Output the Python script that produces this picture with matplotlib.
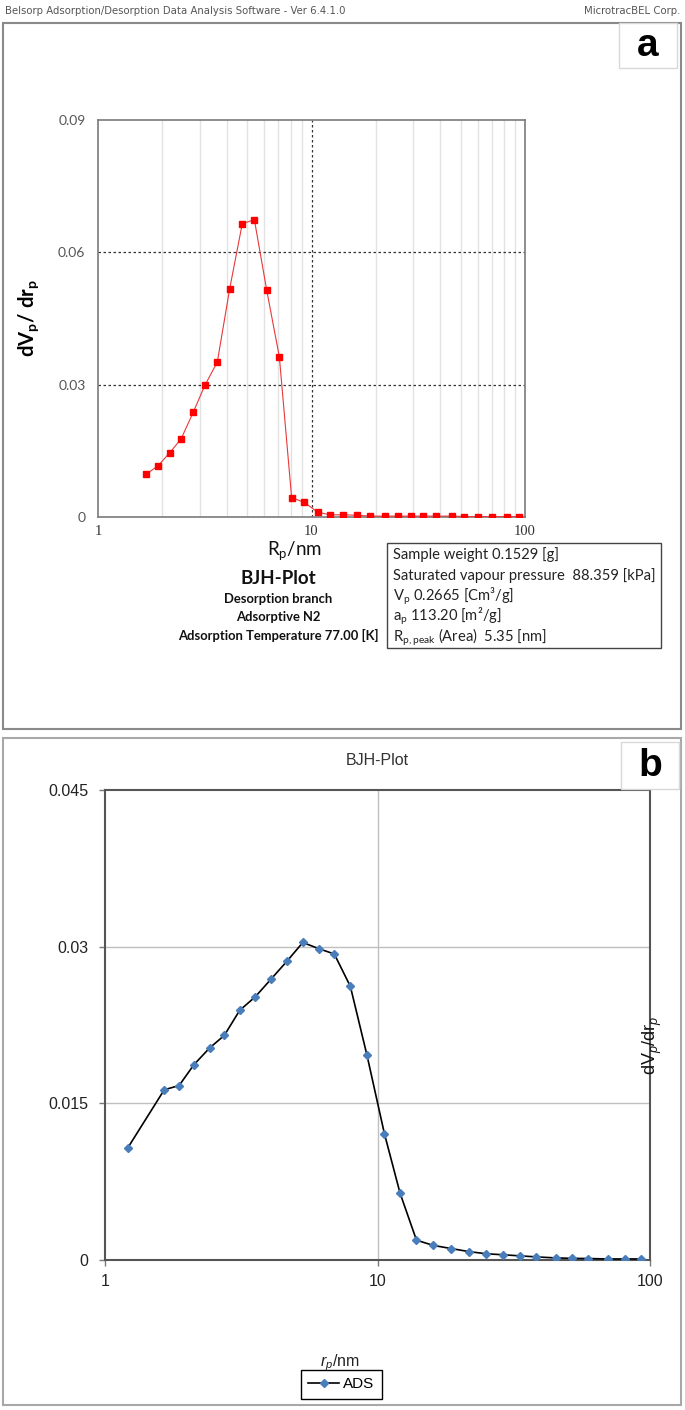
import matplotlib
matplotlib.use('Agg')
import matplotlib.pyplot as plt
from matplotlib.patches import Rectangle
from matplotlib.ticker import FixedLocator, NullFormatter

plt.rcParams['mathtext.fontset'] = 'custom'
plt.rcParams['mathtext.rm'] = 'Lato'
plt.rcParams['mathtext.bf'] = 'Lato:bold'
plt.rcParams['mathtext.sf'] = 'Liberation Sans'
plt.rcParams['mathtext.it'] = 'Liberation Sans:italic'

# Datos panel a (desorcion, BELSORP)
rp_a = [1.68, 1.91, 2.17, 2.45, 2.79, 3.17, 3.62, 4.14, 4.74, 5.40, 6.17, 7.07,
        8.07, 9.25, 10.7, 12.2, 14.1, 16.3, 18.8, 22.0, 25.3, 29.3, 33.4, 38.4,
        45.5, 52.0, 60.0, 70.3, 82.4, 93.5]
dv_a = [0.0097, 0.0116, 0.0146, 0.0177, 0.0237, 0.0299, 0.0351, 0.0518, 0.0665,
        0.0674, 0.0514, 0.0363, 0.0044, 0.0033, 0.0011, 0.0005, 0.0005, 0.0004,
        0.0002, 0.0002, 0.0002, 0.0002, 0.0002, 0.0002, 0.0002, 0.0001, 0.0001,
        0.0001, 0.0001, 0.0001]

# Datos panel b (ADS)
rp_b = [1.21, 1.65, 1.87, 2.12, 2.42, 2.74, 3.12, 3.56, 4.07, 4.65, 5.32, 6.10,
        6.94, 7.95, 9.15, 10.6, 12.1, 13.9, 16.0, 18.6, 21.7, 25.0, 28.9, 33.2,
        38.1, 45.0, 51.6, 59.4, 70.0, 81.2, 92.7]
dv_b = [0.0107, 0.0163, 0.0167, 0.0187, 0.0203, 0.0215, 0.0239, 0.0252, 0.0269,
        0.0286, 0.0304, 0.0298, 0.0293, 0.0262, 0.0196, 0.0121, 0.0064, 0.0019,
        0.0014, 0.0011, 0.0008, 0.0006, 0.0005, 0.0004, 0.0003, 0.0002, 0.00016,
        0.00014, 0.0001, 0.0001, 0.0001]

info_lines = ["Sample weight 0.1529 [g]",
              "Saturated vapour pressure  88.359 [kPa]",
              r"V$_\mathrm{p}$ 0.2665 [Cm³/g]",
              r"a$_\mathrm{p}$ 113.20 [m²/g]",
              r"R$_\mathrm{p,peak}$ (Area)  5.35 [nm]"]
sub_lines = ["Desorption branch", "Adsorptive N2", "Adsorption Temperature 77.00 [K]"]

W, H = 685, 1410
fig = plt.figure(figsize=(W / 100, H / 100), dpi=100)


def fx(px):
    return px / W


def fy(py):
    return 1 - py / H


def axes_px(l, t, r, b):
    return fig.add_axes([fx(l), fy(b), (r - l) / W, (b - t) / H])


def box_px(l, t, r, b, ec, lw, fc='none'):
    fig.patches.append(Rectangle((fx(l), fy(b)), (r - l) / W, (b - t) / H,
                                 transform=fig.transFigure, ec=ec, fc=fc, lw=lw))


# Cabecera
fig.text(fx(5), fy(11), "Belsorp Adsorption/Desorption Data Analysis Software - Ver 6.4.1.0",
         fontsize=7.3, color='#555555', va='center', family='DejaVu Sans')
fig.text(fx(680), fy(11), "MicrotracBEL Corp.", fontsize=7.3, color='#555555',
         va='center', ha='right', family='DejaVu Sans')

# Marcos
box_px(3, 23, 681, 729, '#8a8a8a', 1.5)
box_px(3, 738, 681, 1405, '#a8a8a8', 1.5)
box_px(619, 23, 677, 68, '#d8d8d8', 1.0, 'white')
box_px(621, 742, 679, 789, '#d8d8d8', 1.0, 'white')
fig.text(fx(648), fy(46), "a", fontsize=28, fontweight='bold', ha='center', va='center',
         family='Liberation Sans')
fig.text(fx(650), fy(766), "b", fontsize=28, fontweight='bold', ha='center', va='center',
         family='Liberation Sans')

# ---------------- Panel a ----------------
ax1 = axes_px(98, 120, 525, 517)
ax1.set_xscale('log')
ax1.set_xlim(1, 100)
ax1.set_ylim(0, 0.09)
minors = [k * d for d in (1, 10) for k in range(2, 10)]
for m in minors:
    ax1.axvline(m, color='#e2e2e2', lw=1, zorder=0)
ax1.axvline(10, color='#333333', lw=0.9, ls=(0, (2, 2)), zorder=1)
for yv in (0.03, 0.06):
    ax1.axhline(yv, color='#333333', lw=0.9, ls=(0, (2, 2)), zorder=1)
ax1.plot(rp_a, dv_a, color='#e8393a', lw=0.8, marker='s', ms=4.6,
         mfc='#ff0000', mec='#ff0000', zorder=3)
ax1.xaxis.set_major_locator(FixedLocator([1, 10, 100]))
ax1.xaxis.set_minor_formatter(NullFormatter())
ax1.set_xticklabels(['1', '10', '100'], family='Liberation Serif', fontsize=10.5, color='#333333')
ax1.set_yticks([0, 0.03, 0.06, 0.09])
ax1.set_yticklabels(['0', '0.03', '0.06', '0.09'], family='Lato', fontsize=10, color='#555555')
ax1.tick_params(axis='both', which='both', length=0)
ax1.tick_params(axis='x', pad=6)
ax1.tick_params(axis='y', pad=9)
for s in ax1.spines.values():
    s.set_color('#7a7a7a')
    s.set_linewidth(1.2)
ax1.set_ylabel(r"$\mathbf{dV_p/\ dr_p}$", fontsize=14.5, labelpad=12)

fig.text(fx(294), fy(551), r"R$_\mathrm{p}$/nm", fontsize=13.5, family='Lato',
         ha='center', va='center', color='#111111')
fig.text(fx(278), fy(579), "BJH-Plot", fontsize=13.5, fontweight='bold', family='Lato',
         ha='center', va='center', color='#111111')
for i, s in enumerate(sub_lines):
    fig.text(fx(278), fy(599 + 18 * i), s, fontsize=9.4, fontweight='bold', family='Lato',
             ha='center', va='center', color='#111111')

box_px(387, 543, 661, 648, '#444444', 1.0)
for i, s in enumerate(info_lines):
    fig.text(fx(393), fy(555 + 20.5 * i), s, fontsize=10.6, family='Lato',
             ha='left', va='center', color='#222222')

# ---------------- Panel b ----------------
ax2 = axes_px(105, 790, 650, 1260)
ax2.set_xscale('log')
ax2.set_xlim(1, 100)
ax2.set_ylim(0, 0.045)
ax2.axvline(10, color='#bfbfbf', lw=1, zorder=0)
for yv in (0.015, 0.03):
    ax2.axhline(yv, color='#bfbfbf', lw=1, zorder=0)
ax2.plot(rp_b, dv_b, color='black', lw=1.2, marker='D', ms=4.2,
         mfc='#4a7ebb', mec='#4a7ebb', label='ADS', zorder=3)
ax2.xaxis.set_major_locator(FixedLocator([1, 10, 100]))
ax2.xaxis.set_minor_locator(FixedLocator([]))
ax2.set_xticklabels(['1', '10', '100'], family='Liberation Sans', fontsize=11.5, color='#222222')
ax2.set_yticks([0, 0.015, 0.03, 0.045])
ax2.set_yticklabels(['0', '0.015', '0.03', '0.045'], family='Liberation Sans', fontsize=11.5,
                    color='#222222')
ax2.tick_params(axis='both', length=4, color='#7a7a7a', width=1)
ax2.tick_params(axis='x', pad=6)
ax2.tick_params(axis='y', pad=8)
for s in ax2.spines.values():
    s.set_color('#555555')
    s.set_linewidth(1.5)
ax2.set_title("BJH-Plot", family='Liberation Sans', fontsize=11.5, color='#333333', pad=18)

fig.text(fx(340), fy(1363), r"$r_p$/nm", fontsize=11.5, family='Liberation Sans',
         ha='center', va='center', color='#222222')
fig.text(fx(652), fy(1045), r"$\mathsf{dV}_p\mathsf{/dr}_p$", fontsize=13, rotation=90,
         ha='center', va='center', color='#111111')

leg = ax2.legend(loc='center', bbox_to_anchor=(fx(341.5), fy(1384.5)),
                 bbox_transform=fig.transFigure, fancybox=False, framealpha=1,
                 edgecolor='black', prop={'family': 'Liberation Sans', 'size': 11},
                 handlelength=2.0, handletextpad=0.3, borderpad=0.5)
leg.get_frame().set_linewidth(1.0)

fig.savefig('out.png', dpi=100)
